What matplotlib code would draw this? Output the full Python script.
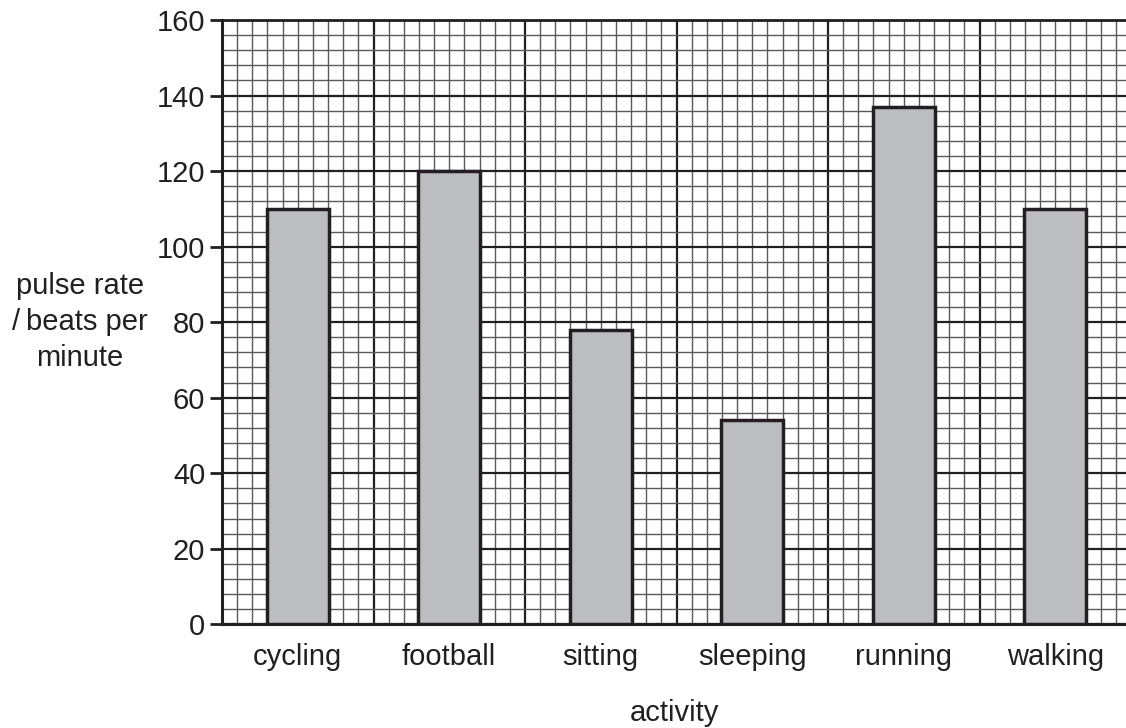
import matplotlib.pyplot as plt
import numpy as np
from matplotlib.ticker import MultipleLocator

plt.rcParams['font.family'] = ['Liberation Sans', 'DejaVu Sans']

activities = ['cycling', 'football', 'sitting', 'sleeping', 'running', 'walking']
pulse_rate = [110, 120, 78, 54, 137, 110]

fig = plt.figure(figsize=(11.26, 7.28), dpi=100)
ax = fig.add_axes([222 / 1126, 1 - 624.3 / 728, (1126 - 222) / 1126, (624.3 - 20) / 728])

x = np.arange(len(activities)) + 0.5
ax.bar(x, pulse_rate, width=0.41, color='#bcbdc1', edgecolor='#231f20', linewidth=2.5, zorder=3)

ax.set_xlim(0, (1126 - 222) / 151.5)
ax.set_ylim(0, 160)

# graph paper: 10 small squares per column, 5 per 20 beats
ax.xaxis.set_major_locator(MultipleLocator(1))
ax.xaxis.set_minor_locator(MultipleLocator(0.1))
ax.yaxis.set_major_locator(MultipleLocator(20))
ax.yaxis.set_minor_locator(MultipleLocator(4))

ax.grid(which='minor', color='#5a5a5a', linewidth=1.0)
ax.grid(which='major', color='#231f20', linewidth=1.6)
ax.set_axisbelow(True)

ax.set_xticklabels([])
for xv, name in zip(x, activities):
    ax.text(xv, -8.7, name, ha='center', va='center', fontsize=21, color='#231f20')

ax.tick_params(axis='y', which='major', direction='out', length=9, width=2,
               labelsize=21, colors='#231f20', pad=3)
ax.tick_params(axis='y', which='minor', length=0)
ax.tick_params(axis='x', which='both', length=0)

for side in ['top', 'right']:
    ax.spines[side].set_visible(False)
ax.spines['left'].set_linewidth(2.2)
ax.spines['bottom'].set_linewidth(2.2)
ax.spines['left'].set_color('#231f20')
ax.spines['bottom'].set_color('#231f20')
ax.axhline(160, color='#231f20', linewidth=2.0, zorder=4, clip_on=False)

fig.text(80 / 1126, 1 - 322 / 728, 'pulse rate\n/\u2009beats per\nminute', ha='center', va='center',
         fontsize=21, color='#231f20', linespacing=1.37)
fig.text(674 / 1126, 1 - 713 / 728, 'activity', ha='center', va='center', fontsize=21, color='#231f20')

fig.savefig('out.png', dpi=100)
